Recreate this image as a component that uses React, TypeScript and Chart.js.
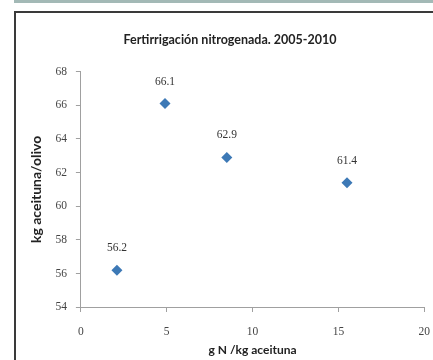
import React, { useEffect, useRef } from "react";
import { Chart, registerables } from "chart.js";

Chart.register(...registerables);

const titleText = "Fertirrigación nitrogenada. 2005-2010";
const xTitle = "g N /kg aceituna";
const yTitle = "kg aceituna/olivo";
const xValues = [2.1, 4.9, 8.5, 15.5];
const yValues = [56.2, 66.1, 62.9, 61.4];
const xTicks = [0, 5, 10, 15, 20];
const yTicks = [54, 56, 58, 60, 62, 64, 66, 68];

const pointLabels = {
  id: "pointLabels",
  afterDatasetsDraw(chart: any) {
    const ctx = chart.ctx;
    const meta = chart.getDatasetMeta(0);
    ctx.save();
    ctx.font = "11.5px 'Liberation Serif'";
    ctx.fillStyle = "#333";
    ctx.textAlign = "center";
    ctx.textBaseline = "middle";
    meta.data.forEach((el: any, i: number) => {
      ctx.fillText(String(yValues[i].toFixed(1)), el.x, el.y - 22);
    });
    ctx.restore();
  },
};

export default function App() {
  const ref = useRef<HTMLCanvasElement>(null);
  useEffect(() => {
    if (!ref.current) return;
    const chart = new Chart(ref.current, {
      type: "scatter",
      data: {
        datasets: [
          {
            data: xValues.map((x, i) => ({ x, y: yValues[i] })),
            pointStyle: "rectRot",
            pointRadius: 5.5,
            backgroundColor: "#3d79b6",
            borderColor: "#3d79b6",
            borderWidth: 0,
          },
        ],
      },
      options: {
        responsive: false,
        animation: false,
        layout: { padding: { left: 28, right: 1, top: 0, bottom: 3 } },
        plugins: {
          legend: { display: false },
          tooltip: { enabled: false },
          title: {
            display: true,
            text: titleText,
            color: "#222",
            font: { family: "Lato", size: 12.5, weight: "bold" },
            padding: { top: 32.5, bottom: 24 },
          },
        },
        scales: {
          x: {
            type: "linear",
            min: 0,
            max: 20,
            afterBuildTicks: (s: any) => {
              s.ticks = xTicks.map((v) => ({ value: v }));
            },
            border: { display: true, color: "#a0a0a0", width: 1 },
            grid: {
              drawOnChartArea: false,
              drawTicks: true,
              tickLength: 14.5,
              tickBorderDash: [4, 60],
              tickColor: "#a0a0a0",
            },
            ticks: {
              padding: 3,
              color: "#444",
              font: { family: "Liberation Serif", size: 11.5 },
            },
            title: {
              display: true,
              text: xTitle,
              color: "#222",
              font: { family: "Lato", size: 12, weight: "bold" },
              padding: { top: 1, bottom: 0 },
            },
          },
          y: {
            type: "linear",
            min: 54,
            max: 68,
            afterBuildTicks: (s: any) => {
              s.ticks = yTicks.map((v) => ({ value: v }));
            },
            border: { display: true, color: "#a0a0a0", width: 1 },
            grid: {
              drawOnChartArea: false,
              drawTicks: true,
              tickLength: 5,
              tickColor: "#a0a0a0",
            },
            ticks: {
              padding: 9,
              color: "#444",
              font: { family: "Liberation Serif", size: 11.5 },
            },
            title: {
              display: true,
              text: yTitle,
              color: "#222",
              font: { family: "Lato", size: 14, weight: "bold" },
              padding: { top: 0, bottom: 1.6 },
            },
          },
        },
      },
      plugins: [pointLabels],
    });
    return () => chart.destroy();
  }, []);

  return (
    <div
      style={{
        position: "fixed",
        left: 0,
        top: 0,
        width: 433,
        height: 360,
        overflow: "hidden",
        background: "#fff",
      }}
    >
      <div
        style={{
          position: "absolute",
          left: 14,
          top: 0,
          width: 440,
          height: 3,
          background: "#a3b9b6",
        }}
      />
      <div
        style={{
          position: "absolute",
          left: 14,
          top: 11,
          width: 480,
          height: 400,
          borderLeft: "2px solid #3a3a3a",
          borderTop: "2px solid #3a3a3a",
        }}
      />
      <canvas
        ref={ref}
        width={433}
        height={360}
        style={{ position: "absolute", left: 0, top: 0, width: 433, height: 360 }}
      />
    </div>
  );
}
